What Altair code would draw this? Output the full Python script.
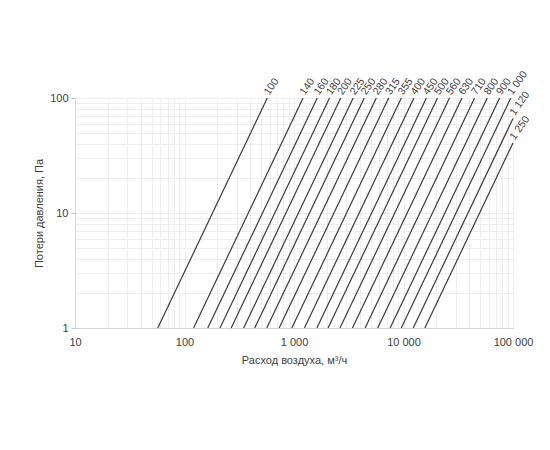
import altair as alt
import pandas as pd

# Duct diameters (line labels)
diam_labels = ["100", "140", "160", "180", "200", "225", "250", "280", "315", "355",
               "400", "450", "500", "560", "630", "710", "800", "900", "1 000", "1 120", "1 250"]
# Air flow at 1 Pa (start of each line), m3/h
q_start = [57, 121, 163, 211, 267, 347, 438, 564, 732, 955,
           1245, 1618, 2045, 2630, 3417, 4459, 5811, 7547, 9539, 12270, 15670]
# End point of each line: flow, m3/h and pressure loss, Pa
q_end = [570, 1210, 1630, 2110, 2670, 3470, 4380, 5640, 7320, 9550,
         12450, 16180, 20450, 26300, 34170, 44590, 58110, 75470, 95390, 100000, 100000]
p_end = [100, 100, 100, 100, 100, 100, 100, 100, 100, 100,
         100, 100, 100, 100, 100, 100, 100, 100, 100, 66.4, 40.7]

x_ticks = [10, 20, 30, 40, 50, 60, 70, 80, 90,
           100, 200, 300, 400, 500, 600, 700, 800, 900,
           1000, 2000, 3000, 4000, 5000, 6000, 7000, 8000, 9000,
           10000, 20000, 30000, 40000, 50000, 60000, 70000, 80000, 90000, 100000]
x_major = [10, 100, 1000, 10000, 100000]
x_major_labels = ["10", "100", "1 000", "10 000", "100 000"]
y_ticks = [1, 2, 3, 4, 5, 6, 7, 8, 9, 10, 20, 30, 40, 50, 60, 70, 80, 90, 100]
y_major = [1, 10, 100]
y_major_labels = ["1", "10", "100"]

rows = []
for lab, qs, qe, pe in zip(diam_labels, q_start, q_end, p_end):
    rows.append({"d": lab, "q": qs, "p": 1})
    rows.append({"d": lab, "q": qe, "p": pe})
lines_df = pd.DataFrame(rows)
labels_df = pd.DataFrame({"d": diam_labels, "q": q_end, "p": p_end})


def label_expr(majors, labels):
    expr = "''"
    for v, l in reversed(list(zip(majors, labels))):
        expr = f"datum.value == {v} ? '{l}' : ({expr})"
    return expr


def major_test(majors):
    return "indexof([" + ",".join(str(v) for v in majors) + "], datum.value) >= 0"


font = "Liberation Sans"

x_scale = alt.Scale(type="log", domain=[10, 100000], nice=False)
y_scale = alt.Scale(type="log", domain=[1, 100], nice=False)

x_axis = alt.Axis(values=x_ticks, labelExpr=label_expr(x_major, x_major_labels),
                  title="Расход воздуха, м³/ч", grid=True, gridColor="#eeeeee",
                  domainColor="#d4d4d4", ticks=False, labelPadding=8,
                  labelFontSize=11, labelColor="#404040", labelFont=font,
                  titleFont=font, titleFontSize=11, titleFontWeight="normal",
                  titleColor="#404040", titlePadding=7, labelFlush=False,
                  labelOverlap=False)
y_axis = alt.Axis(values=y_ticks, labelExpr=label_expr(y_major, y_major_labels),
                  title="Потери давления, Па", grid=True, gridColor="#eeeeee",
                  domainColor="#d4d4d4", tickColor="#c4c4c4", tickSize=4,
                  tickOpacity={"condition": {"test": major_test(y_major), "value": 1}, "value": 0},
                  labelPadding=3, labelFontSize=11, labelColor="#404040", labelFont=font,
                  titleFont=font, titleFontSize=11, titleFontWeight="normal",
                  titleColor="#404040", titlePadding=5, labelFlush=False,
                  labelOverlap=False)

lines = alt.Chart(lines_df).mark_line(color="#3a3a3a", strokeWidth=1.2).encode(
    x=alt.X("q:Q", scale=x_scale, axis=x_axis),
    y=alt.Y("p:Q", scale=y_scale, axis=y_axis),
    detail="d:N",
)

texts = alt.Chart(labels_df).mark_text(
    align="left", baseline="middle", angle=305, dx=3, dy=-3,
    font=font, fontSize=10.5, color="#404040",
).encode(
    x=alt.X("q:Q", scale=x_scale),
    y=alt.Y("p:Q", scale=y_scale),
    text="d:N",
)

chart = alt.layer(lines, texts).properties(
    width=438, height=230,
    padding={"left": 67, "top": 90, "right": 29, "bottom": 100},
    autosize="none",
).configure_view(stroke=None).configure(background="white")

chart.save("out.html", embed_options={"renderer": "svg", "actions": False})
